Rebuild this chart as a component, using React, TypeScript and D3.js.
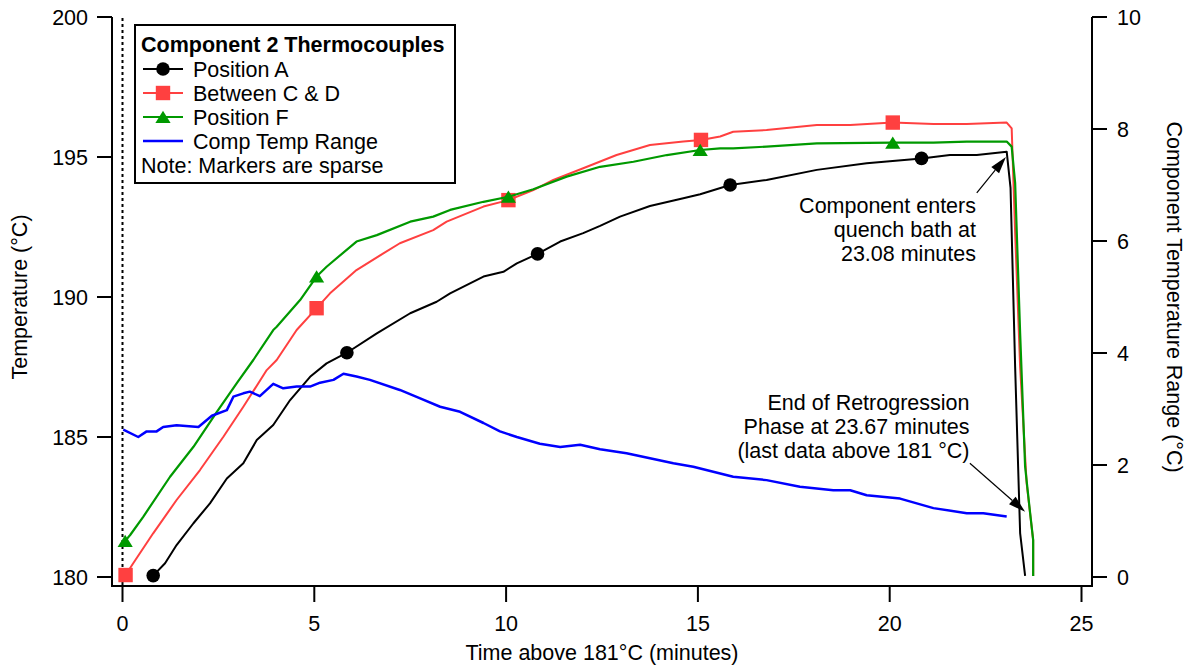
import * as d3 from "d3";

type Pt = [number, number];

// time (min), temperature (°C)
const positionA: Pt[] = [
  [0.8, 180.05], [1.11, 180.49], [1.41, 181.14], [1.85, 181.92], [2.28, 182.63], [2.72, 183.52],
  [3.15, 184.06], [3.5, 184.89], [3.93, 185.43], [4.37, 186.32], [4.89, 187.15], [5.32, 187.63],
  [5.85, 188.01], [6.63, 188.7], [7.5, 189.42], [8.19, 189.83], [8.54, 190.13], [9.41, 190.73],
  [9.93, 190.9], [10.28, 191.2], [10.82, 191.54], [11.41, 191.98], [12.01, 192.28], [12.45, 192.54],
  [12.97, 192.87], [13.75, 193.25], [14.62, 193.53], [15.06, 193.67], [15.84, 194.0], [16.79, 194.18],
  [18.1, 194.54], [19.4, 194.78], [20.83, 194.95], [21.57, 195.07], [22.27, 195.07], [23.05, 195.19],
  [23.15, 193.9], [23.27, 187.5], [23.4, 181.57], [23.53, 180.04],
];

const betweenCD: Pt[] = [
  [0.08, 180.07], [0.28, 180.49], [0.8, 181.56], [1.41, 182.75], [2.02, 183.82], [2.63, 185.01],
  [3.15, 186.08], [3.76, 187.39], [4.02, 187.75], [4.54, 188.82], [5.06, 189.6], [5.41, 190.13],
  [6.1, 190.96], [6.8, 191.56], [7.23, 191.92], [8.1, 192.39], [8.45, 192.69], [9.41, 193.23],
  [10.06, 193.46], [10.71, 193.82], [11.23, 194.18], [12.01, 194.6], [12.88, 195.07], [13.75, 195.43],
  [14.62, 195.55], [15.08, 195.61], [15.58, 195.73], [15.92, 195.9], [16.79, 195.96], [18.1, 196.14],
  [18.97, 196.14], [20.08, 196.23], [21.14, 196.18], [22.01, 196.18], [23.05, 196.23], [23.18, 196.02],
  [23.27, 192.29], [23.4, 187.51], [23.57, 183.35], [23.74, 181.32], [23.74, 180.04],
];

const positionF: Pt[] = [
  [0.07, 181.29], [0.2, 181.5], [0.54, 182.15], [1.24, 183.58], [1.85, 184.65], [2.46, 185.9],
  [2.98, 186.92], [3.41, 187.75], [3.93, 188.82], [4.02, 188.94], [4.63, 189.89], [5.06, 190.73],
  [5.32, 191.08], [6.1, 191.98], [6.63, 192.21], [7.5, 192.69], [8.1, 192.87], [8.54, 193.11],
  [9.41, 193.4], [10.06, 193.58], [10.71, 193.85], [11.58, 194.3], [12.45, 194.65], [13.32, 194.83],
  [14.19, 195.07], [15.06, 195.25], [15.58, 195.31], [15.92, 195.31], [16.79, 195.37], [18.1, 195.49],
  [20.08, 195.51], [21.14, 195.51], [22.01, 195.55], [23.05, 195.55], [23.18, 195.37], [23.27, 194.07],
  [23.4, 188.71], [23.53, 183.94], [23.66, 182.29], [23.74, 181.32], [23.74, 180.04],
];

// time (min), range (°C) on the right axis
const compRange: Pt[] = [
  [0.02, 2.63], [0.41, 2.5], [0.63, 2.6], [0.89, 2.6], [1.06, 2.68], [1.41, 2.71], [1.98, 2.68],
  [2.33, 2.88], [2.72, 2.98], [2.89, 3.22], [3.15, 3.28], [3.32, 3.31], [3.58, 3.23], [3.93, 3.45],
  [4.19, 3.37], [4.54, 3.4], [4.89, 3.4], [5.15, 3.47], [5.5, 3.52], [5.76, 3.63], [6.1, 3.58],
  [6.45, 3.52], [7.23, 3.34], [7.76, 3.19], [8.28, 3.04], [8.8, 2.95], [9.41, 2.75], [9.84, 2.6],
  [10.28, 2.5], [10.88, 2.38], [11.41, 2.32], [11.93, 2.36], [12.45, 2.28], [13.14, 2.21], [13.75, 2.12],
  [14.36, 2.03], [14.88, 1.97], [15.92, 1.79], [16.79, 1.73], [17.66, 1.61], [18.53, 1.55], [18.97, 1.55],
  [19.4, 1.46], [20.27, 1.4], [21.14, 1.23], [22.01, 1.14], [22.44, 1.14], [23.05, 1.08],
];

// sparse markers
const markersA: Pt[] = [[0.8, 180.05], [5.85, 188.01], [10.82, 191.54], [15.84, 194.0], [20.83, 194.95]];
const markersCD: Pt[] = [[0.08, 180.07], [5.06, 189.6], [10.06, 193.46], [15.08, 195.61], [20.08, 196.23]];
const markersF: Pt[] = [[0.07, 181.29], [5.06, 190.73], [10.06, 193.58], [15.06, 195.25], [20.08, 195.51]];

const xTicks = [0, 5, 10, 15, 20, 25];
const yTicks = [180, 185, 190, 195, 200];
const rTicks = [0, 2, 4, 6, 8, 10];

const legendTitle = "Component 2 Thermocouples";
const legendNames = ["Position A", "Between C & D", "Position F", "Comp Temp Range"];
const legendNote = "Note: Markers are sparse";

const noteQuench = ["Component enters", "quench bath at", "23.08 minutes"];
const noteEnd = ["End of Retrogression", "Phase at 23.67 minutes", "(last data above 181 °C)"];

const FONT = "'Liberation Sans', Arial, Helvetica, sans-serif";
const FS = 21.5;
const BLACK = "#000000";
const RED = "#ff4040";
const GREEN = "#009900";
const BLUE = "#0000ff";

const W = 1192;
const H = 668;
const frame = { left: 112, right: 1092, top: 17, bottom: 586 };

const x = d3.scaleLinear().domain([0, 25]).range([122.5, 1081.5]);
const yT = d3.scaleLinear().domain([180, 200]).range([577, 17]);
const yR = d3.scaleLinear().domain([0, 10]).range([577, 17]);

const lineT = d3.line<Pt>().x((d) => x(d[0])).y((d) => yT(d[1]));
const lineR = d3.line<Pt>().x((d) => x(d[0])).y((d) => yR(d[1]));

function Marker({ kind, cx, cy, color }: { kind: string; cx: number; cy: number; color: string }) {
  if (kind === "circle") return <circle cx={cx} cy={cy} r={6.8} fill={color} />;
  if (kind === "square") return <rect x={cx - 7.2} y={cy - 7.2} width={14.4} height={14.4} fill={color} />;
  return <path d={`M${cx},${cy - 6.2}L${cx + 7.6},${cy + 6}L${cx - 7.6},${cy + 6}Z`} fill={color} />;
}

function Arrow({ from, to }: { from: Pt; to: Pt }) {
  const x1 = x(from[0]), y1 = yT(from[1]);
  const x2 = x(to[0]), y2 = yT(to[1]);
  const a = Math.atan2(y2 - y1, x2 - x1);
  const len = 17, hw = 5;
  const bx = x2 - len * Math.cos(a), by = y2 - len * Math.sin(a);
  const px = -Math.sin(a) * hw, py = Math.cos(a) * hw;
  return (
    <g>
      <line x1={x1} y1={y1} x2={bx} y2={by} stroke={BLACK} strokeWidth={1.2} />
      <path d={`M${x2},${y2}L${bx + px},${by + py}L${bx - px},${by - py}Z`} fill={BLACK} />
    </g>
  );
}

export default function App() {
  const series = [
    { data: positionA, marks: markersA, color: BLACK, kind: "circle", w: 2 },
    { data: betweenCD, marks: markersCD, color: RED, kind: "square", w: 2 },
    { data: positionF, marks: markersF, color: GREEN, kind: "triangle", w: 2.2 },
  ];
  const legendRowsY = [69, 93, 117, 141];

  return (
    <svg
      width={W}
      height={H}
      style={{ position: "absolute", left: 0, top: 0, display: "block", background: "#fff" }}
      fontFamily={FONT}
      fontSize={FS}
    >
      {/* zero-time dotted marker */}
      <line x1={x(0)} x2={x(0)} y1={frame.top + 1} y2={frame.bottom} stroke={BLACK} strokeWidth={2} strokeDasharray="3 3" />

      {/* traces */}
      {series.map((s, i) => (
        <g key={i}>
          <path d={lineT(s.data) ?? ""} fill="none" stroke={s.color} strokeWidth={s.w} strokeLinejoin="round" />
          {s.marks.map((m, j) => (
            <Marker key={j} kind={s.kind} cx={x(m[0])} cy={yT(m[1])} color={s.color} />
          ))}
        </g>
      ))}
      <path d={lineR(compRange) ?? ""} fill="none" stroke={BLUE} strokeWidth={2.5} strokeLinejoin="round" />

      {/* axes */}
      <g stroke={BLACK} strokeWidth={2}>
        <line x1={frame.left} x2={frame.left} y1={frame.top} y2={frame.bottom + 1} />
        <line x1={frame.right} x2={frame.right} y1={frame.top} y2={frame.bottom + 1} />
        <line x1={frame.left - 1} x2={frame.right + 1} y1={frame.bottom} y2={frame.bottom} />
        {yTicks.map((v) => (
          <line key={v} x1={frame.left - 15} x2={frame.left} y1={yT(v)} y2={yT(v)} />
        ))}
        {rTicks.map((v) => (
          <line key={v} x1={frame.right} x2={frame.right + 15} y1={yR(v)} y2={yR(v)} />
        ))}
        {xTicks.map((v) => (
          <line key={v} x1={x(v)} x2={x(v)} y1={frame.bottom} y2={frame.bottom + 16} />
        ))}
      </g>
      {yTicks.map((v) => (
        <text key={v} x={frame.left - 24} y={yT(v)} dy="0.35em" textAnchor="end">
          {v}
        </text>
      ))}
      {rTicks.map((v) => (
        <text key={v} x={frame.right + 25} y={yR(v)} dy="0.35em" textAnchor="start">
          {v}
        </text>
      ))}
      {xTicks.map((v) => (
        <text key={v} x={x(v)} y={631} textAnchor="middle">
          {v}
        </text>
      ))}

      {/* axis titles */}
      <text x={(x(0) + x(25)) / 2} y={652} dy="0.35em" textAnchor="middle">
        Time above 181°C (minutes)
      </text>
      <text transform={`translate(19,${(yT(180) + yT(200)) / 2}) rotate(-90)`} dy="0.35em" textAnchor="middle">
        Temperature (°C)
      </text>
      <text transform={`translate(1175,${(yR(0) + yR(10)) / 2}) rotate(90)`} dy="0.35em" textAnchor="middle">
        Component Temperature Range (°C)
      </text>

      {/* annotations */}
      <text textAnchor="end">
        {noteQuench.map((s, i) => (
          <tspan key={i} x={x(22.25)} y={yT(192.99) + i * 23.8}>
            {s}
          </tspan>
        ))}
      </text>
      <Arrow from={[22.27, 193.72]} to={[23.03, 195.0]} />
      <text textAnchor="end">
        {noteEnd.map((s, i) => (
          <tspan key={i} x={x(22.08)} y={yT(185.96) + i * 23.8}>
            {s}
          </tspan>
        ))}
      </text>
      <Arrow from={[22.09, 184.06]} to={[23.53, 182.33]} />

      {/* legend */}
      <g>
        <rect x={135} y={25} width={320} height={158} fill="#fff" stroke={BLACK} strokeWidth={2} />
        <text x={141} y={44.5} dy="0.35em" fontWeight="bold">
          {legendTitle}
        </text>
        {legendNames.map((name, i) => {
          const ly = legendRowsY[i];
          const s = series[i];
          return (
            <g key={name}>
              <line
                x1={143}
                x2={183}
                y1={ly}
                y2={ly}
                stroke={s ? s.color : BLUE}
                strokeWidth={s ? s.w : 2.5}
              />
              {s && <Marker kind={s.kind} cx={163} cy={ly} color={s.color} />}
              <text x={193} y={ly} dy="0.35em">
                {name}
              </text>
            </g>
          );
        })}
        <text x={141} y={165} dy="0.35em">
          {legendNote}
        </text>
      </g>
    </svg>
  );
}
